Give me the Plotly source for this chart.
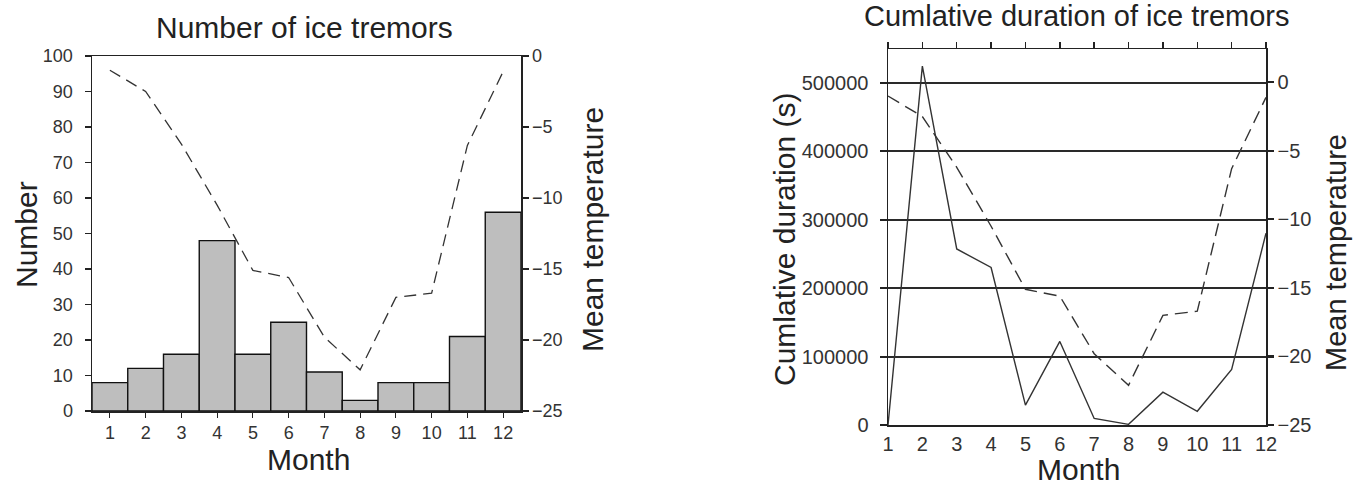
import plotly.graph_objects as go

months = list(range(1, 13))
tremor_counts = [8, 12, 16, 48, 16, 25, 11, 3, 8, 8, 21, 56]
mean_temp = [-1.0, -2.5, -6.2, -10.5, -15.1, -15.6, -19.8, -22.1, -17.0, -16.7, -6.3, -1.1]
cum_duration = [0, 524000, 257000, 230000, 29000, 122000, 9500, 1000, 48000, 20000, 81000, 280000]

W, H = 1353, 488
FONT = "Liberation Sans, Arial, sans-serif"
INK = "#222222"

def px_x(x):
    return x / W

def px_y(y):
    return 1 - y / H

fig = go.Figure()

# Left chart
fig.add_trace(go.Bar(x=months, y=tremor_counts, width=1.0,
                     marker=dict(color="#bebebe", line=dict(color="#111111", width=1.4)),
                     xaxis="x", yaxis="y", showlegend=False))
fig.add_trace(go.Scatter(x=months, y=mean_temp, mode="lines",
                         line=dict(color="#333333", width=1.3, dash="12px,7px"),
                         xaxis="x", yaxis="y2", showlegend=False))

# Right chart
fig.add_trace(go.Scatter(x=months, y=cum_duration, mode="lines",
                         line=dict(color="#333333", width=1.4),
                         xaxis="x3", yaxis="y3", showlegend=False))
fig.add_trace(go.Scatter(x=months, y=mean_temp, mode="lines",
                         line=dict(color="#333333", width=1.4, dash="13px,7px"),
                         xaxis="x3", yaxis="y4", showlegend=False))
# invisible trace to host the top tick axis
fig.add_trace(go.Scatter(x=[1], y=[-100], mode="markers", marker=dict(opacity=0),
                         xaxis="x4", yaxis="y4", showlegend=False, hoverinfo="skip"))

tick_font_l = dict(family=FONT, size=18, color="#333333")
tick_font_r = dict(family=FONT, size=20, color="#333333")
line_c = "#222222"

L_dom_x = [px_x(92), px_x(521)]
L_dom_y = [px_y(411), px_y(56)]
R_dom_x = [px_x(888), px_x(1266)]
R_dom_y = [px_y(425), px_y(49)]

common = dict(automargin=False, zeroline=False, showgrid=False)

fig.update_layout(
    width=W, height=H,
    margin=dict(l=0, r=0, t=0, b=0, autoexpand=False),
    paper_bgcolor="white", plot_bgcolor="white",
    bargap=0, hovermode=False,
    xaxis=dict(domain=L_dom_x, anchor="y", range=[0.5, 12.5], tickvals=months,
               ticks="outside", ticklen=5, tickcolor=line_c, tickwidth=1.2,
               showline=True, linecolor=line_c, linewidth=1.5, mirror=True,
               tickfont=tick_font_l, **common),
    yaxis=dict(domain=L_dom_y, anchor="x", range=[0, 100], dtick=10,
               ticks="outside", ticklen=6, tickcolor=line_c, tickwidth=1.2,
               showline=True, linecolor=line_c, linewidth=1.5, ticklabelstandoff=8,
               tickfont=tick_font_l, **common),
    yaxis2=dict(overlaying="y", side="right", anchor="x", range=[-25, 0], dtick=5,
                ticks="outside", ticklen=6, tickcolor=line_c, tickwidth=1.2,
                showline=True, linecolor=line_c, linewidth=1.5,
                tickfont=tick_font_l, **common),
    xaxis3=dict(domain=R_dom_x, anchor="y3", range=[1, 12], tickvals=months,
                ticks="", showline=True, linecolor=line_c, linewidth=1.5,
                tickfont=tick_font_r, **common),
    xaxis4=dict(overlaying="x3", side="top", anchor="y3", range=[1, 12], tickvals=months,
                ticks="outside", ticklen=6, tickcolor=line_c, tickwidth=1.5,
                showticklabels=False, showline=True, linecolor=line_c, linewidth=1.5,
                **common),
    yaxis3=dict(domain=R_dom_y, anchor="x3", range=[0, 549000],
                tickvals=[0, 100000, 200000, 300000, 400000, 500000], tickformat="d",
                ticks="outside", ticklen=7, tickcolor=line_c, tickwidth=2,
                showline=True, linecolor=line_c, linewidth=1.5, ticklabelstandoff=7,
                showgrid=True, gridcolor="#2a2a2a", gridwidth=2,
                zeroline=False, automargin=False, tickfont=tick_font_r),
    yaxis4=dict(overlaying="y3", side="right", anchor="x3", range=[-25, 2.43], dtick=5,
                ticks="outside", ticklen=6, tickcolor=line_c, tickwidth=2.2,
                showline=True, linecolor=line_c, linewidth=1.5,
                tickfont=tick_font_r, **common),
)

def ann(text, x, y, size, angle=0):
    fig.add_annotation(text=text, x=px_x(x), y=px_y(y), xref="paper", yref="paper",
                       showarrow=False, textangle=angle, xanchor="center", yanchor="middle",
                       font=dict(family=FONT, size=size, color=INK))

ann("Number of ice tremors", 304, 28, 30)
ann("Number", 26, 235, 30, -90)
ann("Month", 308, 459, 30)
ann("Mean temperature", 592, 230, 30, -90)

ann("Cumlative duration of ice tremors", 1077, 16, 29)
ann("Cumlative duration (s)", 784, 240, 30, -90)
ann("Month", 1078, 469, 30)
ann("Mean temperature", 1336, 253, 29, -90)

fig.write_html("out.html", config={"displayModeBar": False, "staticPlot": True},
               post_script="document.body.style.margin='0';document.body.style.overflow='hidden';")
